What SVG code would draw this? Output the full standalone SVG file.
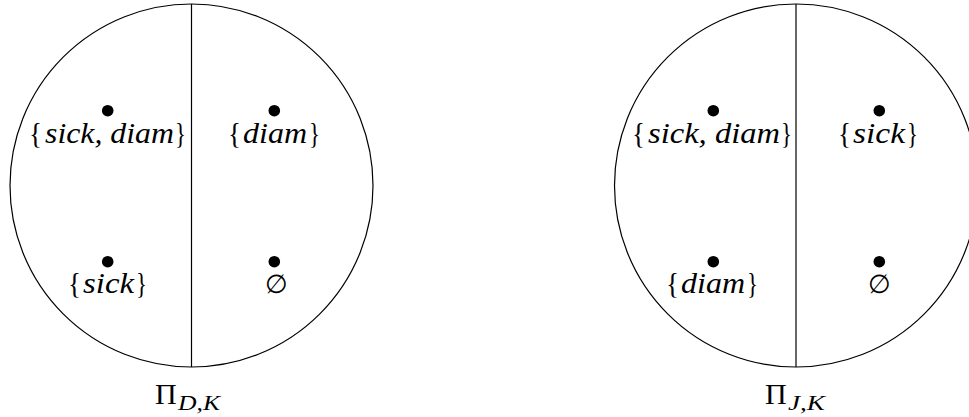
<svg xmlns="http://www.w3.org/2000/svg" width="969" height="417" viewBox="0 0 969 417">
<style>
.c{fill:none;stroke:#000;stroke-width:1.2}
.d{fill:#000}
.t{font-family:"Liberation Serif","DejaVu Serif",serif;font-size:29px;fill:#000}
.b{font-family:"Liberation Serif","DejaVu Serif",serif;font-size:29px;fill:#000}
.i{font-style:italic}
.e{font-family:"DejaVu Serif","Liberation Serif",serif;font-size:26px;fill:#000;text-anchor:middle}
.p{font-family:"Liberation Serif","DejaVu Serif",serif;font-size:30px;fill:#000}
.s{font-family:"Liberation Serif","DejaVu Serif",serif;font-size:21px;font-style:italic;fill:#000}
</style>
<rect width="969" height="417" fill="#fff"/>
<g id="partitionDK">
<circle class="c" cx="191.5" cy="185.5" r="181.5"/>
<line class="c" x1="191.5" y1="4" x2="191.5" y2="367"/>
</g>
<g id="dk-sickdiam">
<circle class="d" cx="107.7" cy="110.7" r="5.8"/>
<text class="b" x="29" y="143" textLength="13" lengthAdjust="spacingAndGlyphs">{</text>
<text class="t i" x="45" y="143" textLength="129" lengthAdjust="spacingAndGlyphs">sick, diam</text>
<text class="b" x="175" y="143" textLength="11" lengthAdjust="spacingAndGlyphs">}</text>
</g>
<g id="dk-diam">
<circle class="d" cx="274.3" cy="110.7" r="5.8"/>
<text class="b" x="228" y="143" textLength="13" lengthAdjust="spacingAndGlyphs">{</text>
<text class="t i" x="243" y="143" textLength="64" lengthAdjust="spacingAndGlyphs">diam</text>
<text class="b" x="309" y="143" textLength="11" lengthAdjust="spacingAndGlyphs">}</text>
</g>
<g id="dk-sick">
<circle class="d" cx="107.7" cy="261.7" r="5.8"/>
<text class="b" x="68" y="293" textLength="13" lengthAdjust="spacingAndGlyphs">{</text>
<text class="t i" x="83" y="293" textLength="51" lengthAdjust="spacingAndGlyphs">sick</text>
<text class="b" x="136" y="293" textLength="11" lengthAdjust="spacingAndGlyphs">}</text>
</g>
<g id="dk-empty">
<circle class="d" cx="274.3" cy="261.7" r="5.8"/>
<text class="e" x="276" y="293">∅</text>
</g>
<g id="labelDK">
<text class="p" x="155" y="404">Π</text>
<text class="s" x="178" y="410" textLength="42" lengthAdjust="spacingAndGlyphs">D,K</text>
</g>
<g id="partitionJK">
<circle class="c" cx="796" cy="185.5" r="181.5"/>
<line class="c" x1="796" y1="4" x2="796" y2="367"/>
</g>
<g id="jk-sickdiam">
<circle class="d" cx="713.3" cy="110.7" r="5.8"/>
<text class="b" x="632" y="143" textLength="13" lengthAdjust="spacingAndGlyphs">{</text>
<text class="t i" x="648" y="143" textLength="132" lengthAdjust="spacingAndGlyphs">sick, diam</text>
<text class="b" x="781" y="143" textLength="11" lengthAdjust="spacingAndGlyphs">}</text>
</g>
<g id="jk-sick">
<circle class="d" cx="879.3" cy="110.7" r="5.8"/>
<text class="b" x="838" y="143" textLength="13" lengthAdjust="spacingAndGlyphs">{</text>
<text class="t i" x="853" y="143" textLength="52" lengthAdjust="spacingAndGlyphs">sick</text>
<text class="b" x="907" y="143" textLength="11" lengthAdjust="spacingAndGlyphs">}</text>
</g>
<g id="jk-diam">
<circle class="d" cx="713.3" cy="261.7" r="5.8"/>
<text class="b" x="666" y="293" textLength="13" lengthAdjust="spacingAndGlyphs">{</text>
<text class="t i" x="681" y="293" textLength="64" lengthAdjust="spacingAndGlyphs">diam</text>
<text class="b" x="747" y="293" textLength="11" lengthAdjust="spacingAndGlyphs">}</text>
</g>
<g id="jk-empty">
<circle class="d" cx="879.3" cy="261.7" r="5.8"/>
<text class="e" x="879" y="293">∅</text>
</g>
<g id="labelJK">
<text class="p" x="765" y="404">Π</text>
<text class="s" x="788" y="410" textLength="37" lengthAdjust="spacingAndGlyphs">J,K</text>
</g>
<g id="connectors"/>
</svg>
